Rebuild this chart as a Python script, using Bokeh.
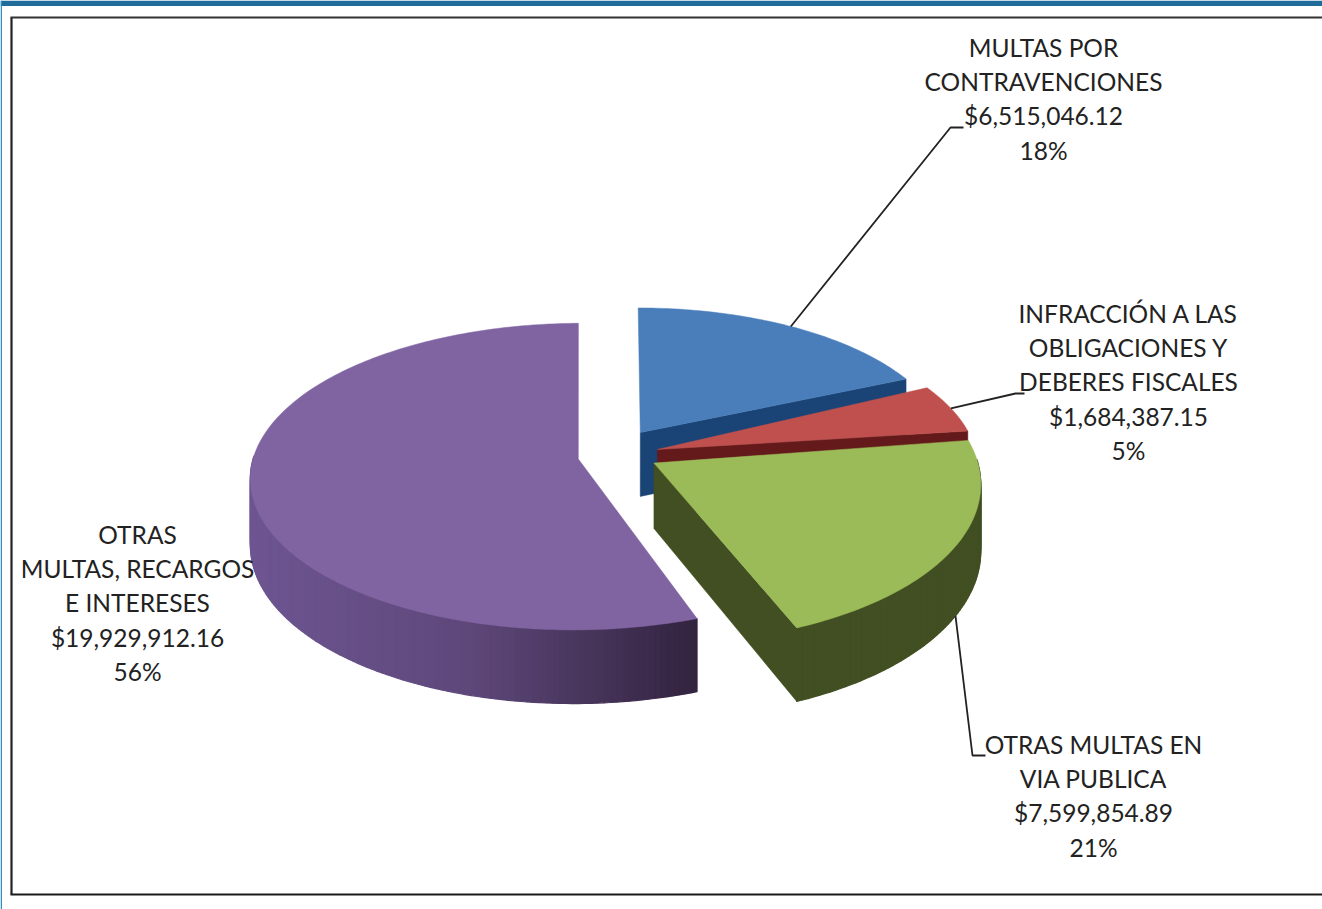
from math import sin, cos, radians
from bokeh.plotting import figure
from bokeh.models import Range1d
from bokeh.core.properties import value
from bokeh.embed import file_html
from bokeh.resources import INLINE

# ---- data ----
names = [
    ["MULTAS POR", "CONTRAVENCIONES"],
    ["INFRACCIÓN A LAS", "OBLIGACIONES Y", "DEBERES FISCALES"],
    ["OTRAS MULTAS EN", "VIA PUBLICA"],
    ["OTRAS", "MULTAS, RECARGOS", "E INTERESES"],
]
amounts = [6515046.12, 1684387.15, 7599854.89, 19929912.16]
percents = ["18%", "5%", "21%", "56%"]
top_colors = ["#4A7EBB", "#C0504D", "#9BBB59", "#8064A2"]
side_colors = ["#1B4476", "#641A1A", "#414F22", "#5F4A78"]

# ---- pie projection (layout) ----
W, H = 1322, 909
CX, CY, RX, RY, K, DEPTH = 618, 455, 326, 150.5, 0.115, 65
# slice layout: radius scale, horizontal scale, offset from the centre, angle corrections
RADIUS = [0.95, 0.98, 1.04, 1.0]
XSCALE = [1.0, 1.0, 0.95, 0.995]
OFFSET = [(0.068, 0.155), (0.120, 0.040), (0.108, -0.05), (-0.123, -0.0225)]
END_NUDGE = [0.5, 0.0, -1.5, -0.8]
START_NUDGE = [0.0, -2.0, -1.0, 1.0]


def proj(u, v, z=0.0):
    w = 1 + K * v
    return CX + RX * u / w, CY - RY * v / w + z * DEPTH / w


p = figure(width=W, height=H, x_range=Range1d(0, W), y_range=Range1d(H, 0),
           output_backend="svg", toolbar_location=None, min_border=0,
           x_axis_type=None, y_axis_type=None, outline_line_color=None,
           background_fill_color="white", border_fill_color="white")
p.grid.visible = False

# page decoration
p.quad(left=0, right=W, top=0, bottom=5.5, fill_color="#1F6B9A", line_color=None)
p.quad(left=0, right=1.5, top=0, bottom=H, fill_color="#2F8DC4", line_color=None)
p.line([11, 11], [17, 894], line_color="#222222", line_width=2.2)
p.line([10, W], [17, 17], line_color="#333333", line_width=2)
p.line([10, W], [894, 894], line_color="#1a1a1a", line_width=2)


def ramp(t):
    stops = [(0.0, (0x6E, 0x56, 0x92)), (0.5, (0x5E, 0x48, 0x7A)), (1.0, (0x33, 0x24, 0x40))]
    t = max(0.0, min(1.0, t))
    for (t0, c0), (t1, c1) in zip(stops, stops[1:]):
        if t <= t1:
            f = (t - t0) / (t1 - t0)
            return "#%02x%02x%02x" % tuple(int(a + (b - a) * f) for a, b in zip(c0, c1))


total = sum(amounts)
cum = 0.0
anchors = []
for i, amt in enumerate(amounts):
    start = cum + START_NUDGE[i]
    cum += 360 * amt / total
    end = cum + END_NUDGE[i]
    mid = radians((start + end) / 2)
    ou, ov = OFFSET[i]
    r, sx = RADIUS[i], XSCALE[i]
    steps = max(6, int(end - start))
    angs = [radians(start + (end - start) * j / steps) for j in range(steps + 1)]
    rim = [(ou + r * sx * sin(a), ov + r * cos(a)) for a in angs]
    anchors.append(proj(ou + r * sx * sin(mid), ov + r * cos(mid), 1.0 if cos(mid) < -0.3 else 0.0))

    # outer rim, only the strips that look towards the viewer
    xs_r, ys_r, cols = [], [], []
    for j in range(steps):
        if cos((angs[j] + angs[j + 1]) / 2) > 0.02:
            continue
        (u0, v0), (u1, v1) = rim[j], rim[j + 1]
        a, b, c, d = proj(u0, v0), proj(u1, v1), proj(u1, v1, 1), proj(u0, v0, 1)
        xs_r.append([a[0], b[0], c[0], d[0]])
        ys_r.append([a[1], b[1], c[1], d[1]])
        cols.append(ramp((a[0] - 250) / 447) if i == 3 else side_colors[i])
    if xs_r:
        p.patches(xs_r, ys_r, fill_color=cols, line_color=cols, line_width=1.2)

    # cut face that looks towards the viewer
    apex = (ou, ov)
    if sin(radians(end)) > 0.01:
        a, b, c, d = proj(*apex), proj(*rim[-1]), proj(*rim[-1], 1), proj(*apex, 1)
        p.patch([a[0], b[0], c[0], d[0]], [a[1], b[1], c[1], d[1]],
                fill_color=side_colors[i], line_color=side_colors[i], line_width=0.5)

    # top face
    top = [proj(*apex)] + [proj(u, v) for u, v in rim]
    p.patch([q[0] for q in top], [q[1] for q in top],
            fill_color=top_colors[i], line_color=top_colors[i], line_width=0.5)

# ---- labels ----
label_cx = [1043, 1128, 1093, 137]
label_top = [47, 313, 744, 534]
LINE = 34.2
for i in range(4):
    lines = names[i] + ["${:,.2f}".format(amounts[i]), percents[i]]
    ys = [label_top[i] + LINE * j for j in range(len(lines))]
    p.text([label_cx[i]] * len(lines), ys, text=lines, text_font=value("Lato"),
           text_font_size=value("24.5px"), text_align="center", text_baseline="middle",
           text_color="#222222")

# ---- leader lines ----
ax, ay = anchors[0]
p.line([ax, 950, 963], [ay, 127, 127], line_color="#222222", line_width=1.8)
ax, ay = anchors[1]
p.line([ax, 1015, 1024], [ay, 393, 393], line_color="#222222", line_width=1.8)
ax, ay = anchors[2]
p.line([ax, 972, 985], [ay, 755, 755], line_color="#222222", line_width=1.8)

open("out.html", "w").write(file_html(p, INLINE))
